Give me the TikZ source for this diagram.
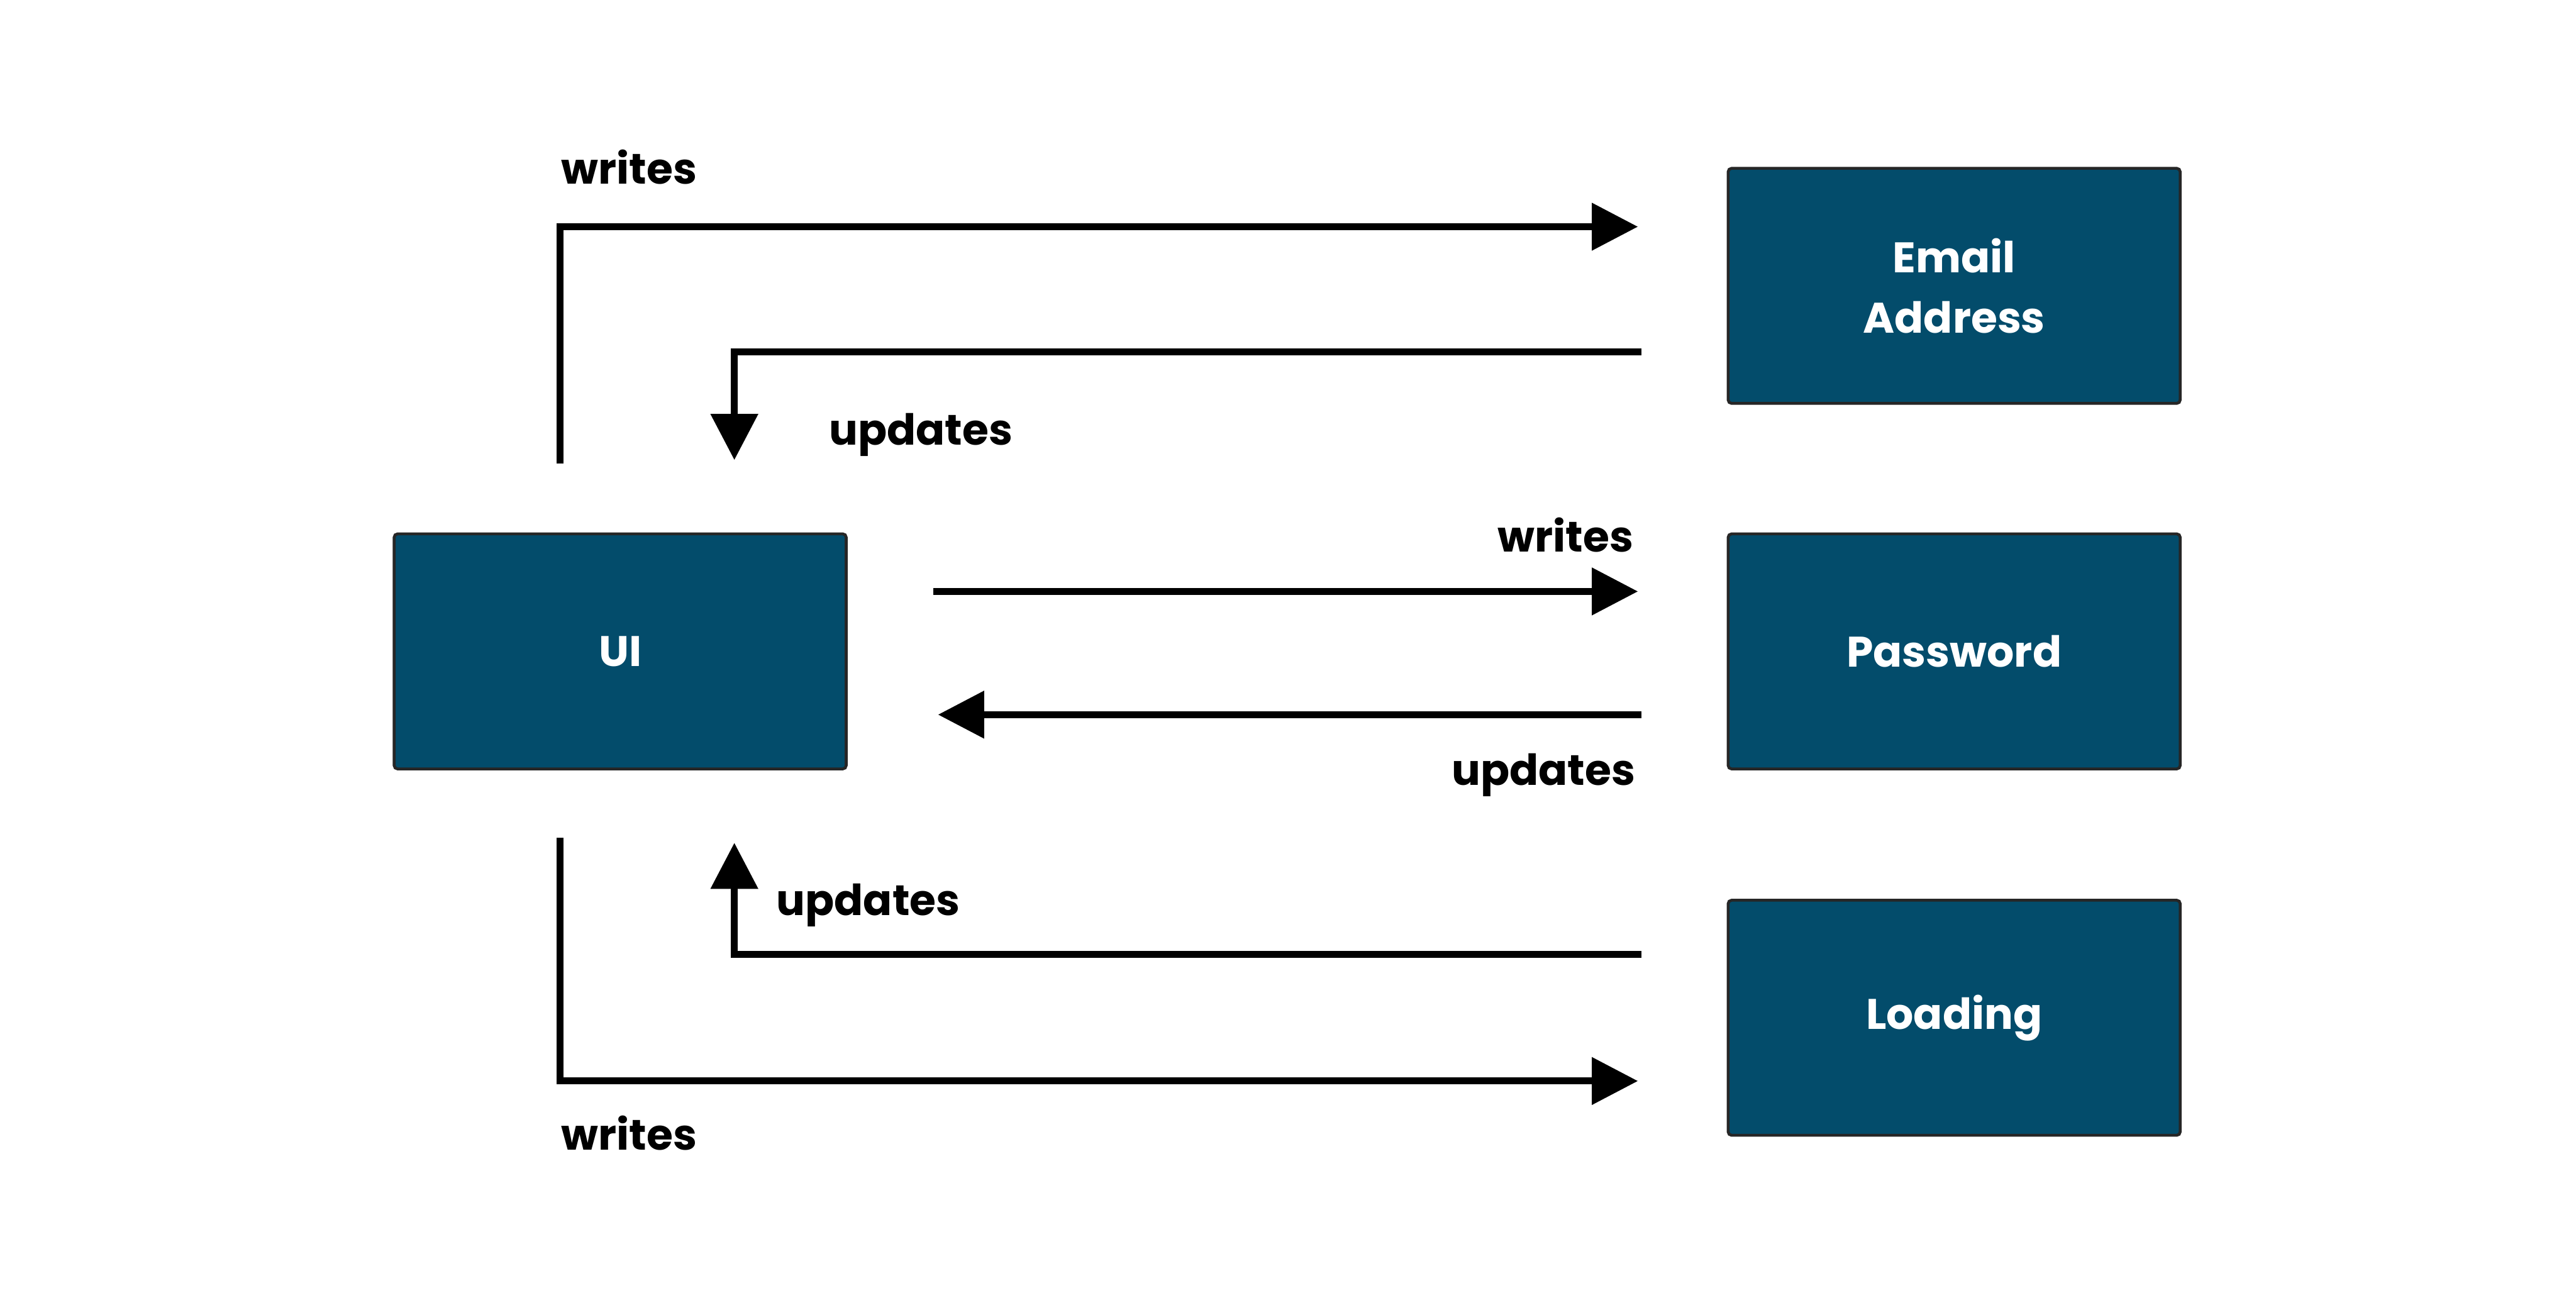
\documentclass[tikz,border=0pt]{standalone}
\usepackage{fontspec}
\setmainfont{Poppins}
\usetikzlibrary{arrows.meta}
\definecolor{boxblue}{HTML}{034C6B}
\begin{document}
\begin{tikzpicture}[x=0.01cm,y=-0.01cm,
  box/.style={draw=black!85, line width=0.5pt, fill=boxblue, rounded corners=0.6pt,
    minimum width=2.75cm, minimum height=1.43cm, text=white,
    font=\fontsize{7.4}{10.5}\selectfont\bfseries, align=center, inner sep=0pt},
  flow/.style={line width=1.2pt, -{Triangle[length=0.28cm,width=0.28cm]}},
  lbl/.style={font=\fontsize{7.4}{10}\selectfont\bfseries, inner sep=0pt}]
\useasboundingbox (0,0) rectangle (1568,794);
% boxes
\node[box] (ui) at (377.5,396.5) {UI};
\node[box] (email) at (1189.5,174) {Email\\Address};
\node[box] (pwd) at (1189.5,396.5) {Password};
\node[box] (load) at (1189.5,619.5) {Loading};
% free ends
\coordinate (w1s) at (341,282);
\coordinate (w1e) at (997,138);
\coordinate (u1s) at (999,214);
\coordinate (u1e) at (447,280);
\coordinate (w2s) at (568,360);
\coordinate (w2e) at (997,360);
\coordinate (u2s) at (999,435);
\coordinate (u2e) at (571,435);
\coordinate (u3s) at (999,581);
\coordinate (u3e) at (447,513);
\coordinate (w3s) at (341,510);
\coordinate (w3e) at (997,658);
% connectors
\draw[flow] (w1s) |- (w1e);
\draw[flow] (u1s) -| (u1e);
\draw[flow] (w2s) -- (w2e);
\draw[flow] (u2s) -- (u2e);
\draw[flow] (u3s) -| (u3e);
\draw[flow] (w3s) |- (w3e);
% labels
\node[lbl, anchor=base west] (lw1) at (341,112) {writes};
\node[lbl, anchor=base west] (lu1) at (504,271) {updates};
\node[lbl, anchor=base east] (lw2) at (995,336) {writes};
\node[lbl, anchor=base east] (lu2) at (996,478) {updates};
\node[lbl, anchor=base west] (lu3) at (472,557) {updates};
\node[lbl, anchor=base west] (lw3) at (341,700) {writes};
\end{tikzpicture}
\end{document}
